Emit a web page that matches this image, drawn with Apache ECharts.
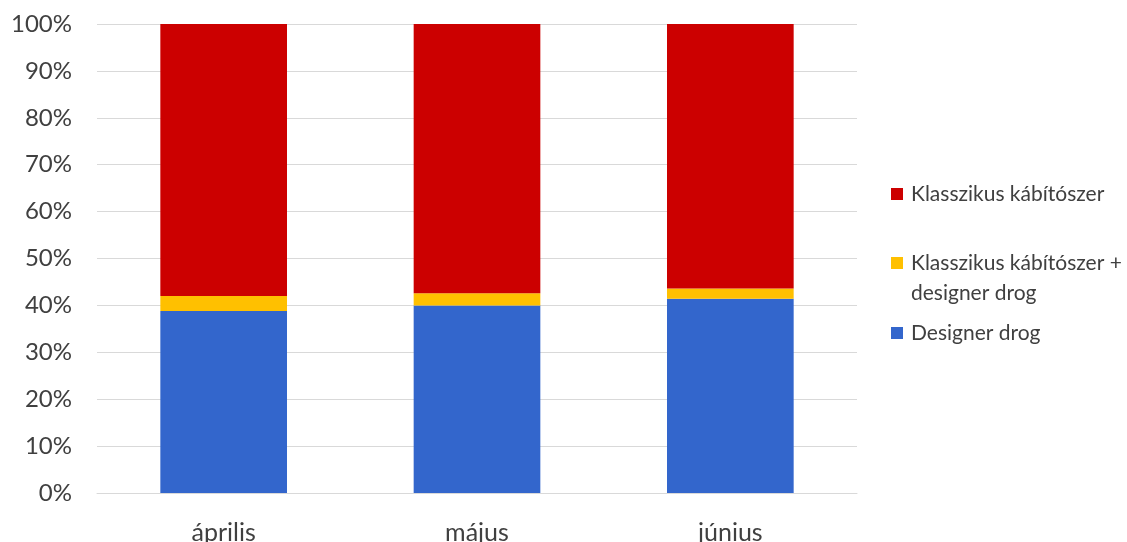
<!DOCTYPE html>
<html>
<head>
<meta charset="utf-8">
<script src="https://cdn.jsdelivr.net/npm/echarts@6/dist/echarts.min.js"></script>
<style>
  html, body { margin: 0; padding: 0; background: #ffffff; }
  #chart { width: 1127px; height: 542px; }
</style>
</head>
<body>
<div id="chart"></div>
<script>
// Months on the category axis
const months = ['április', 'május', 'június'];

// Share of cases per month, in percent
const designerDrog = [38.8, 40.0, 41.4];
const kombinalt = [3.2, 2.6, 2.2];
const klasszikus = [58.0, 57.4, 56.4];

// Series names shown in the legend
const nameKlasszikus = 'Klasszikus kábítószer';
const nameKombinalt = 'Klasszikus kábítószer + designer drog';
const nameDesigner = 'Designer drog';

const textColor = '#404040';
const fontFamily = 'Lato, "Open Sans", sans-serif';

const chart = echarts.init(document.getElementById('chart'), null, { renderer: 'canvas' });

function legendAt(name, top, extra) {
  return Object.assign({
    orient: 'vertical',
    left: 891,
    top: top,
    padding: 0,
    itemWidth: 12,
    itemHeight: 12,
    icon: 'rect',
    selectedMode: false,
    data: [name],
    textStyle: {
      color: textColor,
      fontFamily: fontFamily,
      fontSize: 21,
      lineHeight: 30,
      padding: [0, 0, 0, 3]
    }
  }, extra || {});
}

chart.setOption({
  animation: false,
  backgroundColor: '#ffffff',
  grid: { left: 97, right: 270, top: 24, bottom: 49, outerBoundsMode: 'none', containLabel: false },
  legend: [
    legendAt(nameKlasszikus, 179),
    // leading blank line keeps the first text line level with the marker
    legendAt(nameKombinalt, 218, {
      formatter: () => '\nKlasszikus kábítószer +\ndesigner drog'
    }),
    legendAt(nameDesigner, 318)
  ],
  xAxis: {
    type: 'category',
    data: months,
    axisLine: { show: true, lineStyle: { color: '#d9d9d9', width: 1 } },
    axisTick: { show: false },
    axisLabel: { color: textColor, fontFamily: fontFamily, fontSize: 25, margin: 27 }
  },
  yAxis: {
    type: 'value',
    min: 0,
    max: 100,
    interval: 10,
    axisLine: { show: false },
    axisTick: { show: false },
    splitLine: { lineStyle: { color: '#d9d9d9', width: 1 } },
    axisLabel: {
      color: textColor,
      fontFamily: fontFamily,
      fontSize: 24,
      margin: 25,
      formatter: '{value}%'
    }
  },
  series: [
    {
      name: nameDesigner,
      type: 'bar',
      stack: 'total',
      barWidth: '50%',
      data: designerDrog,
      itemStyle: { color: '#3366cc' }
    },
    {
      name: nameKombinalt,
      type: 'bar',
      stack: 'total',
      data: kombinalt,
      itemStyle: { color: '#ffc000' }
    },
    {
      name: nameKlasszikus,
      type: 'bar',
      stack: 'total',
      data: klasszikus,
      itemStyle: { color: '#cc0000' }
    }
  ]
});
</script>
</body>
</html>
